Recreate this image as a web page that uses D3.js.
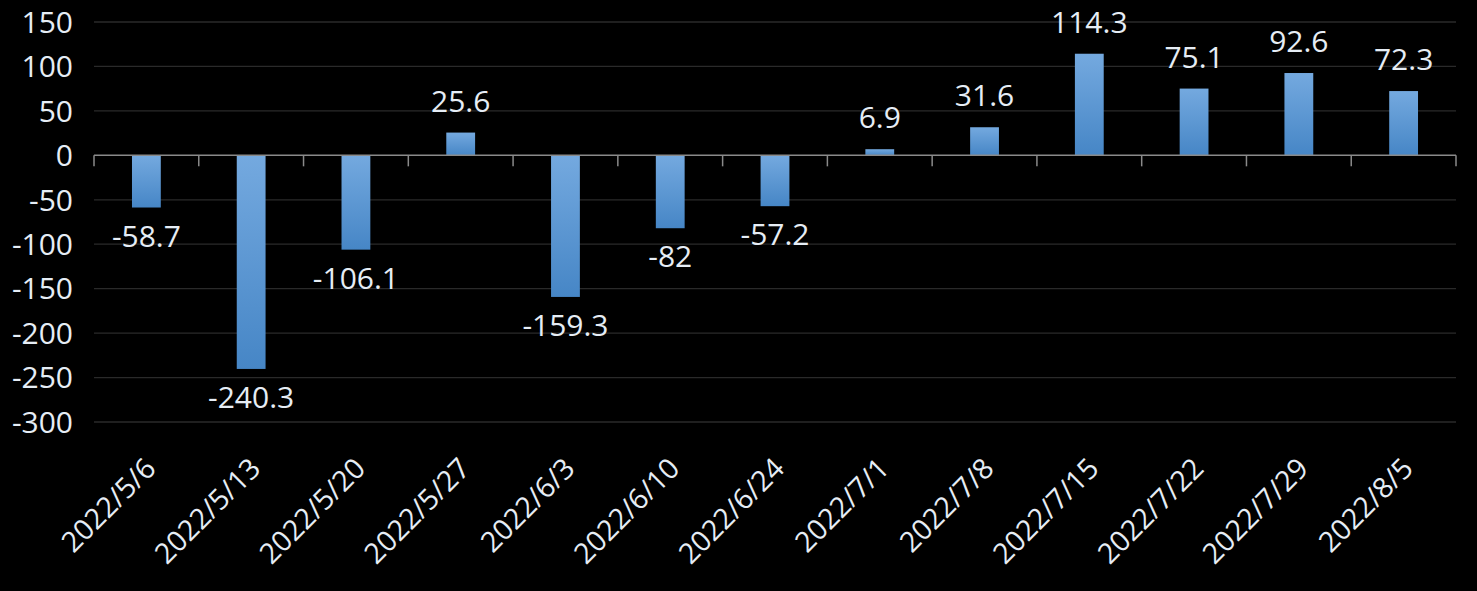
<!DOCTYPE html>
<html>
<head>
<meta charset="utf-8">
<script src="https://cdn.jsdelivr.net/npm/d3@7"></script>
<style>
  html, body { margin: 0; padding: 0; background: #000; }
  svg { display: block; }
  text { font-family: "Open Sans", "Noto Sans", sans-serif; fill: #e6edf5; }
</style>
</head>
<body>
<svg id="chart" width="1477" height="591"></svg>
<script>
const categories = ["2022/5/6","2022/5/13","2022/5/20","2022/5/27","2022/6/3","2022/6/10","2022/6/24","2022/7/1","2022/7/8","2022/7/15","2022/7/22","2022/7/29","2022/8/5"];
const values = [-58.7, -240.3, -106.1, 25.6, -159.3, -82, -57.2, 6.9, 31.6, 114.3, 75.1, 92.6, 72.3];
const valueLabels = ["-58.7","-240.3","-106.1","25.6","-159.3","-82","-57.2","6.9","31.6","114.3","75.1","92.6","72.3"];
const yTicks = [150, 100, 50, 0, -50, -100, -150, -200, -250, -300];

const svg = d3.select("#chart");
svg.append("rect").attr("width", 1477).attr("height", 591).attr("fill", "#000");

const plotL = 94, plotR = 1456, plotT = 22, plotB = 422;
const x = d3.scaleBand().domain(categories).range([plotL, plotR]).padding(0);
const y = d3.scaleLinear().domain([-300, 150]).range([plotB, plotT]);

const defs = svg.append("defs");
const grad = defs.append("linearGradient").attr("id", "barGrad")
  .attr("x1", 0).attr("y1", 0).attr("x2", 0).attr("y2", 1);
grad.append("stop").attr("offset", "0%").attr("stop-color", "#74a9df");
grad.append("stop").attr("offset", "100%").attr("stop-color", "#4686c6");

// gridlines
svg.append("g").selectAll("line").data(yTicks.filter(d => d !== 0)).join("line")
  .attr("x1", plotL).attr("x2", plotR)
  .attr("y1", d => y(d)).attr("y2", d => y(d))
  .attr("stroke", "#2a2a2a").attr("stroke-width", 1.3);

// y tick labels
svg.append("g").selectAll("text").data(yTicks).join("text")
  .attr("x", 73).attr("y", d => y(d))
  .attr("dy", "0.36em")
  .attr("text-anchor", "end")
  .attr("font-size", 30)
  .text(d => d);

// bars
const bw = x.bandwidth() * 0.275;
svg.append("g").selectAll("rect").data(values).join("rect")
  .attr("x", (d, i) => x(categories[i]) + x.bandwidth() / 2 - bw / 2)
  .attr("width", bw)
  .attr("y", d => Math.min(y(d), y(0)))
  .attr("height", d => Math.abs(y(d) - y(0)))
  .attr("fill", "url(#barGrad)");

// zero axis line with ticks
const axisG = svg.append("g");
axisG.append("line").attr("x1", plotL).attr("x2", plotR)
  .attr("y1", y(0)).attr("y2", y(0))
  .attr("stroke", "#8a8a8a").attr("stroke-width", 1.5);
const tickXs = categories.map(c => x(c)).concat([plotR]);
axisG.selectAll("line.tick").data(tickXs).join("line").attr("class", "tick")
  .attr("x1", d => d).attr("x2", d => d)
  .attr("y1", y(0)).attr("y2", y(0) + 11)
  .attr("stroke", "#8a8a8a").attr("stroke-width", 1.5);

// value labels
svg.append("g").selectAll("text").data(values).join("text")
  .attr("x", (d, i) => x(categories[i]) + x.bandwidth() / 2)
  .attr("y", d => d >= 0 ? y(d) - 21 : y(d) + 39)
  .attr("text-anchor", "middle")
  .attr("font-size", 30)
  .text((d, i) => valueLabels[i]);

// category labels
svg.append("g").selectAll("text").data(categories).join("text")
  .attr("transform", c => `translate(${x(c) + x.bandwidth() / 2 - 3},${456}) rotate(-45)`)
  .attr("text-anchor", "end")
  .attr("dy", "0.7em")
  .attr("font-size", 28.5)
  .text(c => c);
</script>
</body>
</html>
